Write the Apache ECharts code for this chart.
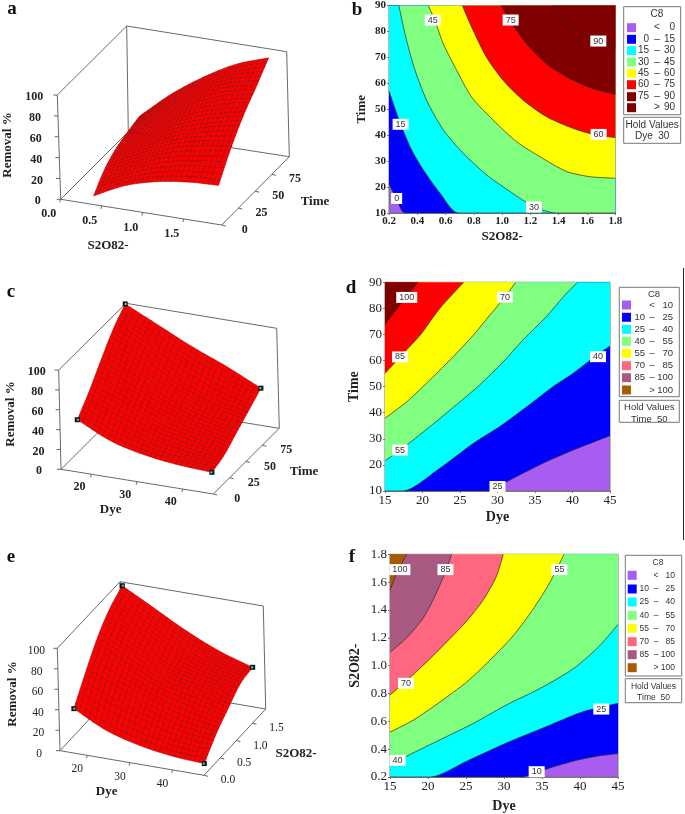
<!DOCTYPE html>
<html><head><meta charset="utf-8">
<style>html,body{margin:0;padding:0;background:#fff}#c{width:685px;height:814px}</style>
<script src="https://cdn.jsdelivr.net/npm/echarts@6/dist/echarts.min.js"></script>
</head><body><div id="c"></div>
<script>
// ---------- surface values (rows: far axis low -> high, cols: near axis low -> high)
const surfaceA = [[3,17,25,29,30],[15,28,41,48,52],[21,37,53,63,70],[23,44,63,77,84],[24,50,71,88,99]];
const surfaceC = [[45,29,20.5,16,14],[60,47,33,25,18],[78,62,45,34,27],[95,78,58,44,36],[107,91,75,61,45]];
const surfaceE = [[36,20,11,6,4],[59,46,34,24,20],[80,63.5,49,41.5,32],[95,76.5,59,49,43],[104,87,70,56,46]];
// ---------- 3D tick labels
const ticksZ = [0,20,40,60,80,100];
const ticksS2O8 = [0,0.5,1,1.5];
const ticksTime3D = [0,25,50,75];
const ticksDye3D = [20,30,40];
// ---------- contour lines panel b
const b0 = [[.2,21.1],[.254,15.5],[.313,10]];
const b15 = [[.2,57],[.282,44.2],[.36,34.3],[.443,26.6],[.56,17.7],[.69,10]];
const b30 = [[.27,90],[.313,79],[.377,66.2],[.466,53.4],[.584,42],[.725,33],[.89,24.7],[1.055,18.3],[1.22,12.6],[1.38,10]];
const b45 = [[.478,90],[.525,84.1],[.584,75.2],[.667,66.2],[.784,54.7],[.937,45.8],[1.102,37.5],[1.267,31.7],[1.456,26],[1.62,24],[1.8,23.4]];
const b60 = [[.718,90],[.796,80.3],[.89,70],[1.008,61.1],[1.149,53.5],[1.314,47.1],[1.503,42.6],[1.668,40],[1.8,39.1]];
const b75 = [[.992,90],[1.055,84.1],[1.173,75.2],[1.314,67.5],[1.479,61.8],[1.644,57.9],[1.8,55.8]];
const b90 = [[1.357,90],[1.456,84.1],[1.573,79],[1.691,75.8],[1.8,73.3]];
const labelsB = [[.254,15.6,'0'],[.282,44.2,'15'],[1.225,12.3,'30'],[.509,84.4,'45'],[1.682,40.3,'60'],[1.06,84.4,'75'],[1.68,76.3,'90']];
// ---------- contour lines panel d
const d25 = [[29.2,10],[31,13.2],[35.6,20],[40.1,25.7],[45,31.2]];
const d40 = [[17.4,10],[22.3,18.7],[26.8,28.3],[30.3,34.7],[33.9,42.3],[37.4,50],[40.1,55.1],[42.7,60.9],[45,65.6]];
const d55 = [[15,21.5],[17.9,27.6],[21,34.7],[24.5,43],[27.6,50.6],[30.8,59.6],[33.4,67.9],[36.5,76.8],[39.2,85.8],[40.7,90]];
const d70 = [[15,37.9],[17.9,44.2],[21,52.6],[24.1,61.5],[26.8,69.8],[29,77.5],[31,84.3],[32.4,90]];
const d85 = [[15,55.1],[17,61.4],[19.7,69.8],[22.3,80],[25.5,90]];
const d100 = [[15,73.9],[17,81.3],[19.4,90]];
const labelsD = [[30,11.7,'25'],[43.4,61.5,'40'],[17,25.7,'55'],[31,84.3,'70'],[17,61.4,'85'],[17.9,84.2,'100']];
// ---------- contour lines panel f
const f10 = [[32.3,.2],[35.1,.25],[39.1,.314],[42.2,.349],[45,.368]];
const f25 = [[20.3,.2],[25.1,.314],[30.3,.444],[35.6,.563],[40.4,.669],[45,.729]];
const f40 = [[15,.278],[17.2,.349],[21.6,.468],[26,.586],[30.3,.717],[34.7,.835],[39.1,.977],[42.6,1.143],[45,1.297]];
const f55 = [[15,.522],[18.1,.61],[21.6,.74],[25.1,.883],[28.1,1.037],[31.2,1.214],[33.8,1.404],[36,1.594],[37.9,1.8]];
const f70 = [[15,.788],[17.2,.894],[19.8,1.025],[22.4,1.167],[25.1,1.321],[27.3,1.475],[29,1.641],[29.9,1.8]];
const f85 = [[15,1.096],[17.2,1.2],[19.4,1.345],[21.1,1.522],[22.4,1.688],[23.1,1.8]];
const f100 = [[15,1.541],[15.9,1.665],[17.2,1.8]];
const labelsF = [[34.3,.238,'10'],[42.8,.688,'25'],[16,.319,'40'],[37.3,1.69,'55'],[17.1,.873,'70'],[22.3,1.69,'85'],[16.3,1.69,'100']];
// ---------- legends
const legendTextB = [['','<','0'],['0','–','15'],['15','–','30'],['30','–','45'],['45','–','60'],['60','–','75'],['75','–','90'],['','>','90']];
const legendTextD = [['','<','10'],['10','–','25'],['25','–','40'],['40','–','55'],['55','–','70'],['70','–','85'],['85','–','100'],['','>','100']];
const PUR='#A85CF0',BLU='#0000FF',CYA='#00FFFF',GRE='#80FF80',YEL='#FFFF00',RED='#FF0000',DRK='#800000',PNK='#FF6680',MAU='#A85A82',BRN='#A85A00';
const legendColorsB=[PUR,BLU,CYA,GRE,YEL,RED,DRK,DRK];
const legendColorsD=[PUR,BLU,CYA,GRE,YEL,PNK,MAU,BRN];

const SERIF='"Liberation Serif","DejaVu Serif",serif', SANS='"Liberation Sans",Arial,sans-serif';

// ---------- contour panels
const panels=[
 {box:{left:389,top:4.7,width:226.3,height:208.3},xr:[.2,1.8,.2],yr:[10,90,10],xd:1,xn:'S2O82-',yn:'Time',nx:17,ny:21,fs:11,nfs:13,
  lines:[[b0,BLU],[b15,CYA],[b30,GRE],[b45,YEL],[b60,RED],[b75,DRK],[b90,DRK]],labels:labelsB,mode:'b'},
 {box:{left:385,top:282.3,width:225,height:208.7},xr:[15,45,5],yr:[10,90,10],xd:0,xn:'Dye',yn:'Time',nx:19,ny:24,fs:13,nfs:14,
  lines:[[d25,BLU],[d40,CYA],[d55,GRE],[d70,YEL],[d85,RED],[d100,DRK]],labels:labelsD,mode:'d'},
 {box:{left:390,top:554.3,width:228,height:225},xr:[15,45,5],yr:[.2,1.8,.2],xd:0,xn:'Dye',yn:'S2O82-',yd:1,nx:22,ny:28,fs:13,nfs:14,
  lines:[[f10,BLU],[f25,CYA],[f40,GRE],[f55,YEL],[f70,PNK],[f85,MAU],[f100,BRN]],labels:labelsF,mode:'d'}
];
function closeContour(line,p){
  const a=line.slice(),ymin=p.yr[0];
  if(p.mode==='b'){ if(a[a.length-1][1]===ymin) a.push([p.xr[1],ymin]); }
  else { if(a[0][1]===ymin) a.unshift([p.xr[0],ymin]); }
  return a;
}
const grids=[],xAxes=[],yAxes=[],series=[];
panels.forEach((p,i)=>{
  grids.push(Object.assign({show:true,backgroundColor:PUR,borderColor:'#777',borderWidth:1},p.box));
  const lab=(d)=>({show:true,fontFamily:SERIF,fontSize:p.fs,color:'#222',margin:3,fontWeight:i===0?'bold':'normal',
      formatter:v=>d?Number(v).toFixed(d):String(v),showMinLabel:true,showMaxLabel:true,hideOverlap:false});
  xAxes.push({type:'value',gridIndex:i,min:p.xr[0],max:p.xr[1],interval:p.xr[2],splitLine:{show:false},
    axisLine:{lineStyle:{color:'#777'}},axisTick:{length:2,lineStyle:{color:'#777'}},axisLabel:lab(p.xd),
    name:p.xn,nameLocation:'middle',nameGap:p.nx,nameTextStyle:{fontFamily:SERIF,fontWeight:'bold',fontSize:p.nfs,color:'#222'}});
  yAxes.push({type:'value',gridIndex:i,min:p.yr[0],max:p.yr[1],interval:p.yr[2],splitLine:{show:false},
    axisLine:{lineStyle:{color:'#777'}},axisTick:{length:2,lineStyle:{color:'#777'}},axisLabel:lab(p.yd||0),
    name:p.yn,nameLocation:'middle',nameGap:p.ny,nameRotate:90,nameTextStyle:{fontFamily:SERIF,fontWeight:'bold',fontSize:p.nfs,color:'#222'}});
  p.lines.forEach(([ln,col],k)=>series.push({type:'line',xAxisIndex:i,yAxisIndex:i,data:closeContour(ln,p),smooth:.25,showSymbol:false,
    silent:true,z:2+k,lineStyle:{color:'#2a2a2a',width:.7},areaStyle:{color:col,opacity:1,origin:'end'}}));
  series.push({type:'scatter',xAxisIndex:i,yAxisIndex:i,symbolSize:1,itemStyle:{color:'rgba(0,0,0,0)'},z:20,silent:true,
    data:p.labels,label:{show:true,position:'inside',formatter:q=>q.value[2],backgroundColor:'#fff',padding:[1,3],
    fontFamily:SANS,fontSize:9,color:'#333',opacity:1}});
});

// ---------- 3D projection
function catmull(p0,p1,p2,p3,t){return .5*(2*p1+(p2-p0)*t+(2*p0-5*p1+4*p2-p3)*t*t+(3*p1-p0-3*p2+p3)*t*t*t);}
function sampleTable(T,a,b){ // a along columns, b along rows, both in 0..1
  const n=T.length-1,m=T[0].length-1,ri=Math.min(Math.floor(b*n),n-1),ci=Math.min(Math.floor(a*m),m-1),rt=b*n-ri,ct=a*m-ci;
  const row=r=>{r=Math.max(0,Math.min(n,r));const R=T[r],g=c=>{if(c<0)return 2*R[0]-R[1];if(c>m)return 2*R[m]-R[m-1];return R[c];};
    return catmull(g(ci-1),g(ci),g(ci+1),g(ci+2),ct);};
  const g2=r=>{if(r<0)return 2*row(0)-row(1);if(r>n)return 2*row(n)-row(n-1);return row(r);};
  return catmull(g2(ri-1),g2(ri),g2(ri+1),g2(ri+2),rt);
}
const scenes=[
 {T:surfaceA,floor:[[60.7,199.3],[221.7,225],[289.3,156.7],[128.3,131.7]],top:[[57.3,95],[218,120.5],[286.7,51.7],[126.7,26]],
  foot:{nl:[.175,.07],nr:[.945,.1],fl:[.115,.9],fr:[.93,.9]},markers:false,bold:true,fs:12,
  xt:ticksS2O8,xf:v=>v.toFixed(1),xu:v=>v*.51,xo:[-12,15],yt:ticksTime3D,yf:v=>String(v),yv:v=>v/101,yo:[23,5],zo:[-23,2],
  names:[['Removal %',7.3,145,90],['S2O82-',108,246,0],['Time',315,202,0]]},
 {T:surfaceC,floor:[[61,469.3],[213.3,494],[279.3,428.3],[127,403.7]],top:[[58.7,370],[210.5,395],[276.7,328.3],[126,303.3]],
  foot:{nl:[.07,.1],nr:[.95,.1],fl:[.04,.9],fr:[.93,.9]},markers:true,bold:true,fs:12,
  xt:ticksDye3D,xf:v=>String(v),xu:v=>.2+(v-20)*.03,xo:[-12,13],yt:ticksTime3D,yf:v=>String(v),yv:v=>v/101,yo:[24,5],zo:[-22,2],
  names:[['Removal %',11,414,90],['Dye',110.7,510,0],['Time',304,472,0]]},
 {T:surfaceE,floor:[[60,750.7],[204,775.3],[265.7,709],[121.7,684.3]],top:[[57.3,648.3],[201.3,672.7],[263.3,606],[120,581.7]],
  foot:{nl:[.06,.1],nr:[.96,.1],fl:[.06,.9],fr:[.96,.9]},markers:true,bold:false,fs:11.5,
  xt:ticksDye3D,xf:v=>String(v),xu:v=>.19+(v-20)*.0296,xo:[-10,14],yt:ticksS2O8,yf:v=>v.toFixed(1),yv:v=>v*.524,yo:[24,5],zo:[-21,3],
  names:[['Removal %',12.7,694,90],['Dye',106.7,791.7,0],['S2O82-',296,754,0]]}
];
function proj(sc,u,v,w){
  const bi=q=>[0,1].map(k=>(1-v)*((1-u)*q[0][k]+u*q[1][k])+v*((1-u)*q[3][k]+u*q[2][k]));
  const f=bi(sc.floor),t=bi(sc.top);
  return [f[0]+(t[0]-f[0])*w,f[1]+(t[1]-f[1])*w];
}
const CELLS=26;
function renderScene(sc,api){
  const ch=[],C=(x,y)=>api.coord([x,y]);
  const P=(u,v,w)=>{const q=proj(sc,u,v,w);return C(q[0],q[1]);};
  const line=(a,b,w,col)=>ch.push({type:'line',shape:{x1:a[0],y1:a[1],x2:b[0],y2:b[1]},style:{stroke:col||'#666',lineWidth:w||1}});
  const edges=[[0,0,0,1,0,0],[1,0,0,1,1,0],[1,1,0,0,1,0],[0,1,0,0,0,0],[0,0,0,0,0,1],[0,1,0,0,1,1],[1,1,0,1,1,1],[0,0,1,0,1,1],[0,1,1,1,1,1]];
  edges.forEach(e=>line(P(e[0],e[1],e[2]),P(e[3],e[4],e[5]),1,'#6a6a6a'));
  const txt=(s,x,y,o)=>ch.push({type:'text',x:x,y:y,rotation:o&&o.rot?o.rot*Math.PI/180:0,style:{text:s,fontFamily:SERIF,
    fontSize:(o&&o.fs)||sc.fs,fontWeight:(o&&o.weight)||(sc.bold?'bold':'normal'),fill:'#222',align:'center',verticalAlign:'middle'}});
  ticksZ.forEach(z=>{const a=P(0,0,z/100);line(a,[a[0]-4,a[1]]);txt(String(z),a[0]+sc.zo[0],a[1]+sc.zo[1]);});
  sc.xt.forEach(v=>{const a=P(sc.xu(v),0,0);line(a,[a[0]-1,a[1]+3]);txt(sc.xf(v),a[0]+sc.xo[0],a[1]+sc.xo[1]);});
  sc.yt.forEach(v=>{const a=P(1,sc.yv(v),0);line(a,[a[0]+4,a[1]+1]);txt(sc.yf(v),a[0]+sc.yo[0],a[1]+sc.yo[1]);});
  sc.names.forEach(n=>{const a=C(n[1],n[2]);txt(n[0],a[0],a[1],{rot:n[3],fs:13,weight:'bold'});});
  const F=sc.foot;
  const S=(a,b)=>{const uu=(1-b)*((1-a)*F.nl[0]+a*F.nr[0])+b*((1-a)*F.fl[0]+a*F.fr[0]),
                        vv=(1-b)*((1-a)*F.nl[1]+a*F.nr[1])+b*((1-a)*F.fl[1]+a*F.fr[1]);
    return P(uu,vv,sampleTable(sc.T,a,b)/100);};
  for(let j=CELLS-1;j>=0;j--)for(let i=0;i<CELLS;i++){
    const a0=i/CELLS,a1=(i+1)/CELLS,b0=j/CELLS,b1=(j+1)/CELLS;
    ch.push({type:'polygon',shape:{points:[S(a0,b0),S(a1,b0),S(a1,b1),S(a0,b1)]},style:{fill:'#FF0000',stroke:'#8c0606',lineWidth:.5}});
  }
  if(sc.markers)[[0,0],[1,0],[1,1],[0,1]].forEach(q=>{const a=S(q[0],q[1]);
    ch.push({type:'rect',shape:{x:a[0]-2.5,y:a[1]-2.5,width:5,height:5},style:{fill:'#111'}});
    ch.push({type:'rect',shape:{x:a[0]-(q[0]?1.5:.5),y:a[1]-1,width:2,height:2},style:{fill:'#2EE6E6'}});});
  return {type:'group',children:ch};
}
grids.push({left:0,top:0,width:685,height:814,show:false});
xAxes.push({type:'value',gridIndex:3,min:0,max:685,show:false});
yAxes.push({type:'value',gridIndex:3,min:0,max:814,inverse:true,show:false});
scenes.forEach(sc=>series.push({type:'custom',xAxisIndex:3,yAxisIndex:3,data:[[0,0]],silent:true,clip:false,z:5,
  renderItem:(p,api)=>renderScene(sc,api)}));

// ---------- legend + letters
const gfx=[];
function legendBox(L,texts,colors,hold){
  const box=(x,y,w,h)=>gfx.push({type:'rect',shape:{x,y,width:w,height:h},style:{fill:'#fff',stroke:'#777',lineWidth:1}});
  const t=(s,x,y,al,fs)=>gfx.push({type:'text',x,y,style:{text:s,fontFamily:SANS,fontSize:fs||L.fs,fill:'#333',align:al||'center',verticalAlign:'middle'}});
  box(L.x,L.y,L.w,L.h);box(L.x,L.hy,L.w,L.hh);
  t('C8',L.tx,L.ty);
  texts.forEach((r,i)=>{const y=L.rows[i];
    gfx.push({type:'rect',shape:{x:L.sx,y:y-4.5,width:9,height:9},style:{fill:colors[i]}});
    t(r[0],L.c1,y,'right');t(r[1],L.c2,y);t(r[2],L.c3,y,'right');});
  t(hold[0],L.x+L.w/2,L.hy+7.5);t(hold[1],L.x+L.w/2,L.hy+19);
}
legendBox({x:623.7,y:6.7,w:57,h:108,hy:117.3,hh:26,tx:657,ty:14.7,sx:627,c1:649,c2:657,c3:675,fs:10,rows:[27.7,39.3,50.7,62,73.3,84.7,96.7,107.7]},legendTextB,legendColorsB,['Hold Values','Dye  30']);
legendBox({x:619.3,y:287.3,w:60,h:109.4,hy:400.3,hh:22,tx:654,ty:294,sx:622,c1:645,c2:652,c3:673,fs:9.5,rows:[305,317.3,329.3,341.3,353.3,365.7,377.7,390]},legendTextD,legendColorsD,['Hold Values','Time  50']);
legendBox({x:625.3,y:555.3,w:56.4,h:120.7,hy:678.7,hh:24,tx:658,ty:563,sx:627.7,c1:649,c2:656,c3:675,fs:8.5,rows:[575.3,589,602,615.3,628.3,641.7,654.7,667.7]},legendTextD,legendColorsD,['Hold Values','Time  50']);
[['a',12,9],['b',357,10],['c',11,292],['d',351,288],['e',11,557],['f',352,557]].forEach(a=>
  gfx.push({type:'text',x:a[1],y:a[2],style:{text:a[0],fontFamily:SERIF,fontWeight:'bold',fontSize:19,fill:'#111',align:'center',verticalAlign:'middle'}}));
gfx.push({type:'line',shape:{x1:683.5,y1:268,x2:683.5,y2:540},style:{stroke:'#222',lineWidth:1}});

const chart=echarts.init(document.getElementById('c'),null,{renderer:'canvas'});
chart.setOption({animation:false,backgroundColor:'#fff',grid:grids,xAxis:xAxes,yAxis:yAxes,series:series,graphic:{elements:gfx}});
</script></body></html>
